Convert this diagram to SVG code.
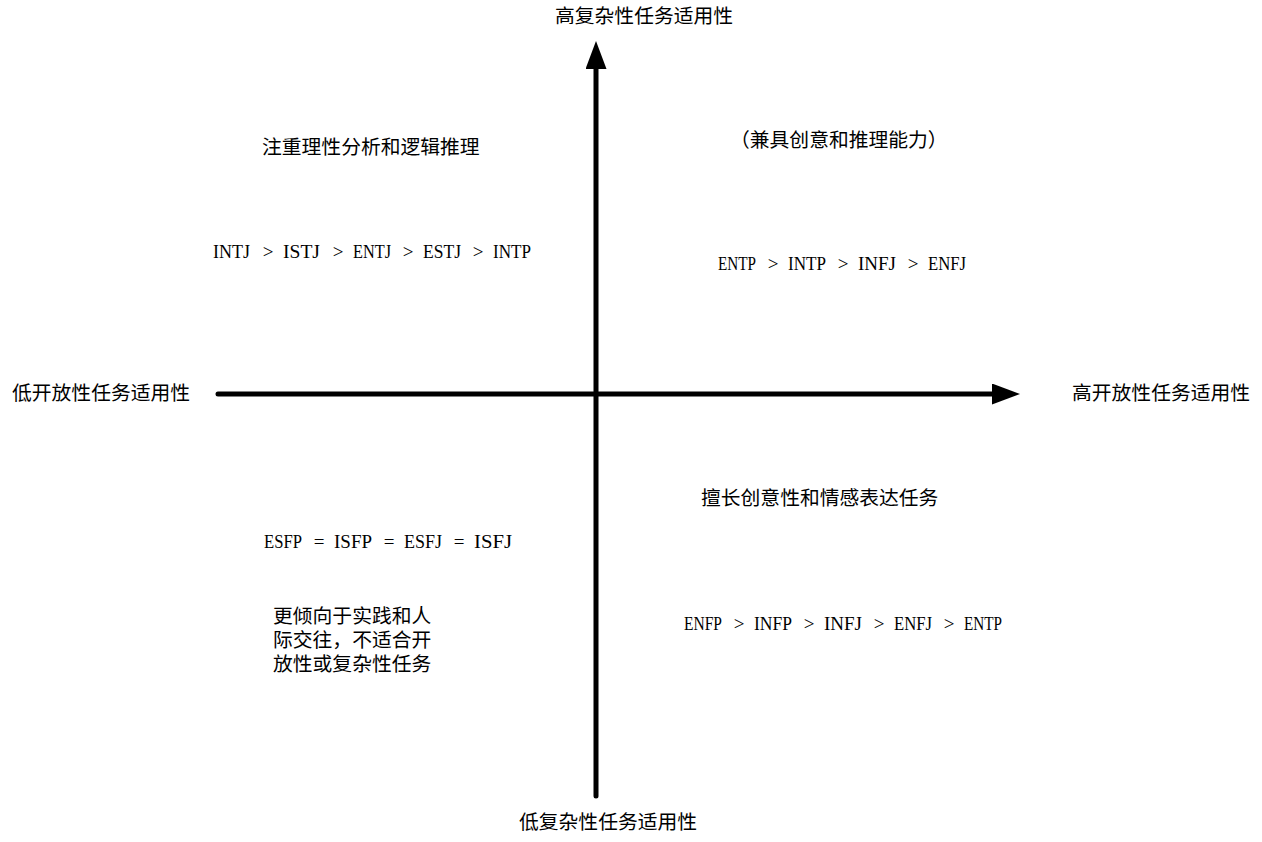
<svg xmlns="http://www.w3.org/2000/svg" width="1262" height="842" viewBox="0 0 1262 842">
  <style>
    .cjk { font-family: "Noto Sans CJK SC", "Liberation Serif", sans-serif; font-size: 19.8px; fill: #000; }
    .lat { font-family: "Liberation Serif", "Noto Sans CJK SC", serif; font-size: 19px; fill: #000; }
    .op { font-family: "Liberation Serif", "Noto Sans CJK SC", serif; font-size: 19px; fill: #000; text-anchor: middle; }
    .axis { stroke: #000; stroke-width: 5; stroke-linecap: round; fill: none; }
  </style>
  <defs>
    <marker id="arrow" markerUnits="userSpaceOnUse" markerWidth="28" markerHeight="22" refX="1" refY="10.5" orient="auto">
      <path d="M0,0 L28,10.5 L0,21 z" fill="#000"/>
    </marker>
  </defs>
  <rect width="1262" height="842" fill="#fff"/>
  <g id="connectors">
    <line class="axis" x1="596" y1="796" x2="596" y2="68" marker-end="url(#arrow)"/>
    <line class="axis" x1="218" y1="394" x2="993" y2="394" marker-end="url(#arrow)"/>
  </g>
  <g id="axis-top"><text class="cjk" x="555" y="23">高复杂性任务适用性</text></g>
  <g id="axis-bottom"><text class="cjk" x="519" y="829">低复杂性任务适用性</text></g>
  <g id="axis-left"><text class="cjk" x="12" y="400">低开放性任务适用性</text></g>
  <g id="axis-right"><text class="cjk" x="1072" y="400">高开放性任务适用性</text></g>
  <g id="q2-title"><text class="cjk" x="262" y="154">注重理性分析和逻辑推理</text></g>
  <g id="q2-rank">
    <text class="lat" x="213" y="258" textLength="37" lengthAdjust="spacingAndGlyphs">INTJ</text>
    <text class="op" x="268" y="258">&gt;</text>
    <text class="lat" x="283" y="258" textLength="37" lengthAdjust="spacingAndGlyphs">ISTJ</text>
    <text class="op" x="338" y="258">&gt;</text>
    <text class="lat" x="353" y="258" textLength="38" lengthAdjust="spacingAndGlyphs">ENTJ</text>
    <text class="op" x="408" y="258">&gt;</text>
    <text class="lat" x="423" y="258" textLength="38" lengthAdjust="spacingAndGlyphs">ESTJ</text>
    <text class="op" x="478" y="258">&gt;</text>
    <text class="lat" x="493" y="258" textLength="38" lengthAdjust="spacingAndGlyphs">INTP</text>
  </g>
  <g id="q1-title"><text class="cjk" x="730" y="147">（兼具创意和推理能力）</text></g>
  <g id="q1-rank">
    <text class="lat" x="718" y="270" textLength="38" lengthAdjust="spacingAndGlyphs">ENTP</text>
    <text class="op" x="773" y="270">&gt;</text>
    <text class="lat" x="788" y="270" textLength="38" lengthAdjust="spacingAndGlyphs">INTP</text>
    <text class="op" x="843" y="270">&gt;</text>
    <text class="lat" x="858" y="270" textLength="38" lengthAdjust="spacingAndGlyphs">INFJ</text>
    <text class="op" x="913" y="270">&gt;</text>
    <text class="lat" x="928" y="270" textLength="38" lengthAdjust="spacingAndGlyphs">ENFJ</text>
  </g>
  <g id="q3-rank">
    <text class="lat" x="264" y="548" textLength="38" lengthAdjust="spacingAndGlyphs">ESFP</text>
    <text class="op" x="319" y="548">=</text>
    <text class="lat" x="334" y="548" textLength="38" lengthAdjust="spacingAndGlyphs">ISFP</text>
    <text class="op" x="389" y="548">=</text>
    <text class="lat" x="404" y="548" textLength="38" lengthAdjust="spacingAndGlyphs">ESFJ</text>
    <text class="op" x="459" y="548">=</text>
    <text class="lat" x="474" y="548" textLength="38" lengthAdjust="spacingAndGlyphs">ISFJ</text>
  </g>
  <g id="q3-desc">
    <text class="cjk" x="273" y="623">更倾向于实践和人<tspan x="273" dy="24">际交往，不适合开</tspan><tspan x="273" dy="24">放性或复杂性任务</tspan></text>
  </g>
  <g id="q4-title"><text class="cjk" x="701" y="505">擅长创意性和情感表达任务</text></g>
  <g id="q4-rank">
    <text class="lat" x="684" y="630" textLength="38" lengthAdjust="spacingAndGlyphs">ENFP</text>
    <text class="op" x="739" y="630">&gt;</text>
    <text class="lat" x="754" y="630" textLength="38" lengthAdjust="spacingAndGlyphs">INFP</text>
    <text class="op" x="809" y="630">&gt;</text>
    <text class="lat" x="824" y="630" textLength="38" lengthAdjust="spacingAndGlyphs">INFJ</text>
    <text class="op" x="879" y="630">&gt;</text>
    <text class="lat" x="894" y="630" textLength="38" lengthAdjust="spacingAndGlyphs">ENFJ</text>
    <text class="op" x="949" y="630">&gt;</text>
    <text class="lat" x="964" y="630" textLength="38" lengthAdjust="spacingAndGlyphs">ENTP</text>
  </g>
</svg>
